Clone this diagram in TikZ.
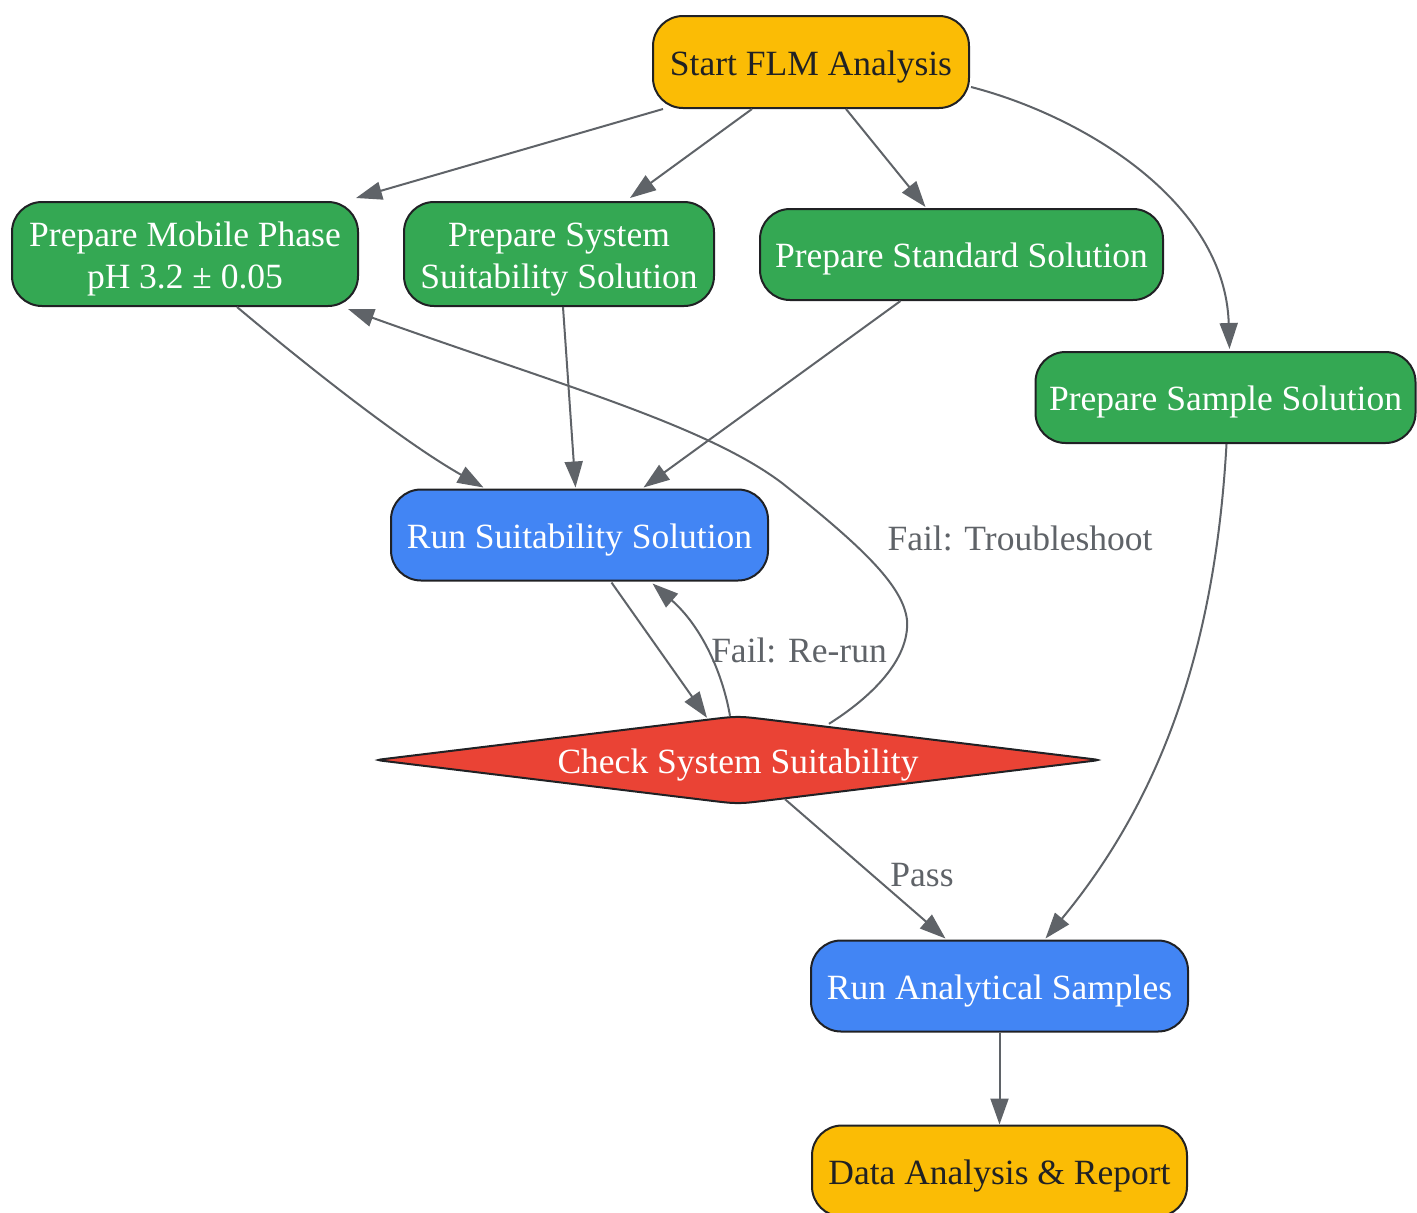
\documentclass[tikz,border=0pt]{standalone}
\usepackage{fontspec}
\setmainfont{Liberation Serif}
\usetikzlibrary{arrows.meta,calc}
\definecolor{gyellow}{HTML}{FBBC05}
\definecolor{ggreen}{HTML}{34A853}
\definecolor{gblue}{HTML}{4285F4}
\definecolor{gred}{HTML}{EA4335}
\definecolor{gdark}{HTML}{202124}
\definecolor{ggray}{HTML}{5F6368}
\begin{document}
\begin{tikzpicture}[x=1pt,y=1pt,
  box/.style={rectangle, rounded corners=30pt, draw=gdark, line width=2pt, inner sep=0pt, align=center,
    font=\fontsize{35.5}{42}\selectfont, text height=34pt, text depth=8pt},
  twoline/.style={text height=76pt, text depth=8pt},
  ybox/.style={box, fill=gyellow, text=gdark},
  gbox/.style={box, fill=ggreen, text=white},
  bbox/.style={box, fill=gblue, text=white},
  edge/.style={draw=ggray, line width=2pt, -{Triangle[length=26pt,width=18pt]}},
  elabel/.style={text=ggray, font=\fontsize{35.5}{42}\selectfont, inner sep=0pt}
]
\useasboundingbox (0,0) rectangle (1417,-1213);

\node[ybox, minimum width=316pt, minimum height=92pt] (start) at (811,-62) {Start FLM Analysis};
\node[gbox, twoline, minimum width=346pt, minimum height=104pt] (mobile) at (185,-254) {Prepare Mobile Phase\\pH 3.2 ± 0.05};
\node[gbox, twoline, minimum width=310pt, minimum height=104pt] (system) at (559,-254) {Prepare System\\Suitability Solution};
\node[gbox, minimum width=403pt, minimum height=91pt] (standard) at (961.5,-254.5) {Prepare Standard Solution};
\node[gbox, minimum width=380pt, minimum height=91pt] (sample) at (1225.5,-397.5) {Prepare Sample Solution};
\node[bbox, minimum width=377pt, minimum height=91pt] (runsuit) at (579.5,-535) {Run Suitability Solution};
\node[bbox, minimum width=377pt, minimum height=91pt] (runana) at (999.5,-986) {Run Analytical Samples};
\node[ybox, minimum width=375pt, minimum height=91pt] (data) at (999.5,-1171) {Data Analysis \& Report};

% decision diamond
\begin{scope}[shift={(738,-760)}]
\draw[fill=gred, draw=gdark, line width=2pt]
  (-30,40.35) .. controls (0,44) .. (30,40.35) -- (352,1.21) .. controls (362,0) .. (352,-1.21)
  -- (30,-40.35) .. controls (0,-44) .. (-30,-40.35) -- (-352,-1.21) .. controls (-362,0) .. (-352,1.21) -- cycle;
\end{scope}
\node[rectangle, minimum width=724pt, minimum height=88pt, inner sep=0pt, text=white,
  font=\fontsize{35.5}{42}\selectfont, text height=34pt, text depth=8pt] (check) at (738,-760) {Check System Suitability};

% edges
\draw[edge] ($(start.south)+(-148,0)$) -- ($(mobile.north east)+(-3,3)$);
\draw[edge] ($(start.south)+(-59,0)$) -- ($(system.north)+(71,3)$);
\draw[edge] ($(start.south)+(35,0)$) -- ($(standard.north)+(-36,1)$);
\draw[edge] ($(start.east)+(1,-25)$) .. controls (1080,-115) and (1225,-200) .. ($(sample.north)+(4,2)$);
\draw[edge] ($(mobile.south)+(52,0)$) .. controls (300,-360) and (400,-440) .. ($(runsuit.north)+(-96,1)$);
\draw[edge] ($(system.south)+(4,0)$) -- ($(runsuit.north)+(-4,1)$);
\draw[edge] ($(standard.south)+(-61,0)$) -- ($(runsuit.north)+(64,1)$);
\draw[edge] ($(runsuit.south)+(32,-1)$) -- ($(check.north)+(-31,-2)$);
\draw[edge] ($(check.north)+(-8,0)$) .. controls (722,-670) and (700,-625) .. ($(runsuit.south)+(73,-2)$);
\node[elabel] (lrerun) at (799,-650) {Fail: Re-run};
\draw[edge] ($(check.north)+(91,-8)$) .. controls (870,-698) and (910,-660) .. (907,-620)
  .. controls (903,-585) and (860,-545) .. (782,-483)
  .. controls (705,-425) and (560,-385) .. ($(mobile.south east)+(-11,-2)$);
\node[elabel] (ltrouble) at (1020,-538) {Fail: Troubleshoot};
\draw[edge] ($(check.south)+(47,5)$) -- ($(runana.north)+(-54,1)$);
\node[elabel] (lpass) at (922,-875) {Pass};
\draw[edge] ($(sample.south)+(1,0)$) .. controls (1215,-650) and (1160,-800) .. ($(runana.north)+(46,1)$);
\draw[edge] (runana.south) -- (data.north);
\end{tikzpicture}
\end{document}
